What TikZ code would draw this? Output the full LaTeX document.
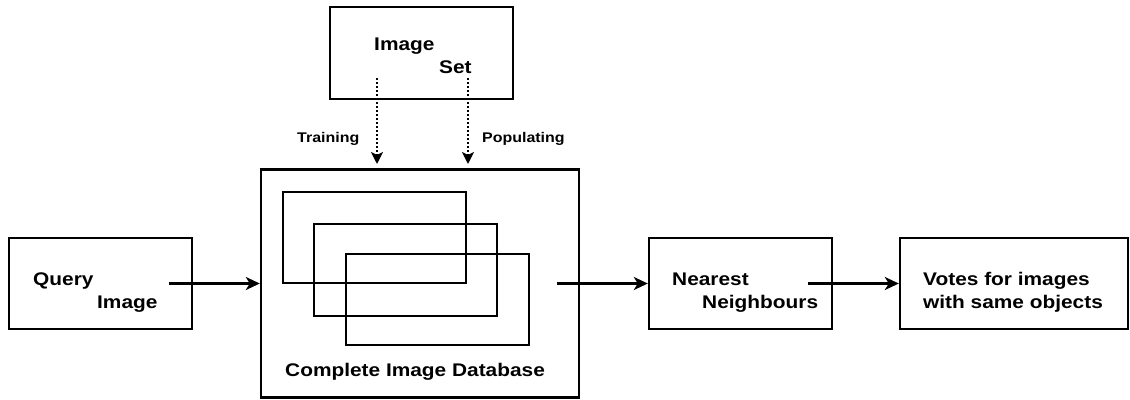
\documentclass[tikz,border=0pt]{standalone}
\usepackage{fontspec}
\setmainfont{Liberation Sans}[FakeStretch=1.14]
\usetikzlibrary{arrows.meta}

\tikzset{
    box/.style={draw, line width=2.4pt, minimum width=183pt, minimum height=91pt, inner sep=0pt},
    lbl/.style={font=\fontsize{18.3}{23}\selectfont\bfseries, align=left, inner sep=0pt, anchor=base west},
    flow/.style={line width=2.4pt, -{Stealth[length=14pt, width=13pt, inset=4pt]}},
    feed/.style={line width=2.4pt, dash pattern=on 2pt off 2pt, -{Stealth[length=12pt, width=12pt, inset=3pt]}}
}

\begin{document}
\begin{tikzpicture}[x=1pt, y=-1pt]
        \useasboundingbox (0,0) rectangle (1130,399);

        % boxes
        \node[box] (query) at (100.5,283.5) {};
        \node[box, minimum height=92pt] (imgset) at (421.5,53) {};
        \node[box, minimum width=318pt, minimum height=228pt] (db) at (420,283.5) {};
        \node[box] (nearest) at (740.5,283.5) {};
        \node[box, minimum width=228pt] (votes) at (1014,283.5) {};

        % stacked images inside the database
        \node[box] (layer1) at (374.5,237.5) {};
        \node[box, minimum height=92pt] (layer2) at (405.5,270) {};
        \node[box] (layer3) at (437.5,299.5) {};

        % labels (base = last line)
        \node[lbl] (querytext) at (33,308) {Query\\\hspace*{64pt}Image};
        \node[lbl] (settext) at (374,73) {Image\\\hspace*{65pt}Set};
        \node[lbl] (dbtext) at (285,376) {Complete Image Database};
        \node[lbl] (nearesttext) at (672,308) {Nearest\\\hspace*{30pt}Neighbours};
        \node[lbl] (votestext) at (923,308) {Votes for images\\with same objects};
        \node[lbl, font=\fontsize{14}{17}\selectfont\bfseries] (trainlbl) at (297,142) {Training};
        \node[lbl, font=\fontsize{14}{17}\selectfont\bfseries] (poplbl) at (482,142) {Populating};

        % free ends of the connectors
        \coordinate (queryout) at (169,283.5);
        \coordinate (dbout) at (557,283.5);
        \coordinate (nearestout) at (808,283.5);
        \coordinate (trainfrom) at (377,78);
        \coordinate (trainto) at (377,164);
        \coordinate (popfrom) at (468,78);
        \coordinate (popto) at (468,164);

        \draw [flow] (queryout) -- (db.west);
        \draw [flow] (dbout) -- (nearest.west);
        \draw [flow] (nearestout) -- (votes.west);

        \draw [feed] (trainfrom) -- (trainto);
        \draw [feed] (popfrom) -- (popto);

    \end{tikzpicture}
\end{document}
